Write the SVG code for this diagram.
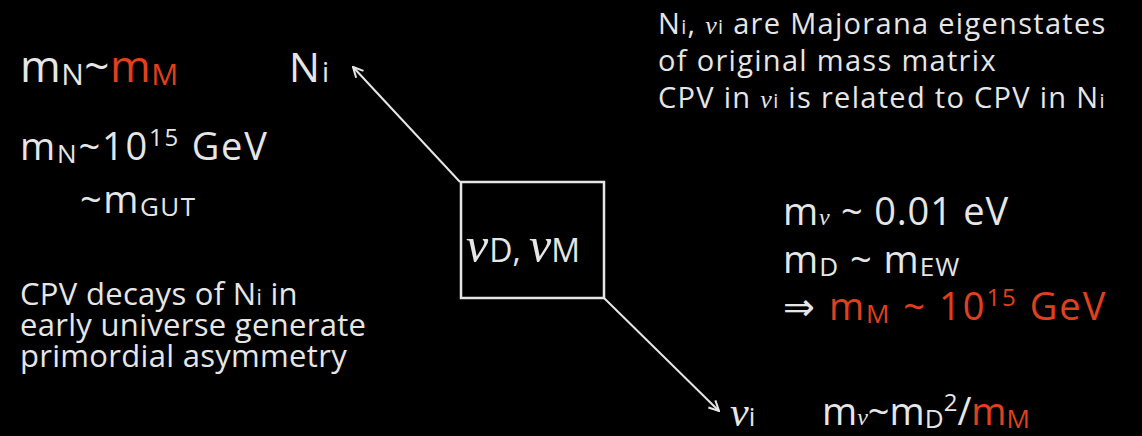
<svg xmlns="http://www.w3.org/2000/svg" width="1142" height="436" viewBox="0 0 1142 436">
<defs>
<style>
.t{font-family:"Open Sans","Lato","Liberation Sans",sans-serif;fill:#e6e6e6}
.o{fill:#e0401c}
.nu{font-family:"Liberation Serif",serif;font-style:italic}
</style>
<marker id="ah" viewBox="0 0 12 12" refX="11" refY="6" markerWidth="12" markerHeight="12" markerUnits="userSpaceOnUse" orient="auto">
<path d="M1,1 L11,6 L1,11" fill="none" stroke="#e6e6e6" stroke-width="2"/>
</marker>
</defs>
<rect width="1142" height="436" fill="#000"/>
<g id="connectors" stroke="#e6e6e6" stroke-width="2" fill="none">
<line x1="460" y1="182" x2="353" y2="67" marker-end="url(#ah)"/>
<line x1="604" y1="298" x2="719" y2="411" marker-end="url(#ah)"/>
</g>
<g id="box">
<rect x="461" y="182" width="143" height="116" fill="none" stroke="#e6e6e6" stroke-width="2.5"/>
<text class="t" x="466" y="262" font-size="50"><tspan class="nu">ν</tspan><tspan font-size="32" dx="1">D, </tspan><tspan class="nu">ν</tspan><tspan font-size="32">M</tspan></text>
</g>
<g id="Ni">
<text class="t" x="289" y="82" font-size="41">N<tspan font-size="28" dx="2">i</tspan></text>
</g>
<g id="nui">
<text class="t" x="730" y="426" font-size="42"><tspan class="nu">ν</tspan><tspan font-size="26">i</tspan></text>
</g>
<g id="left">
<text class="t" x="20" y="82" font-size="44" letter-spacing="0.5">m<tspan font-size="30" dy="3">N</tspan><tspan dy="-3">~</tspan><tspan class="o">m</tspan><tspan class="o" font-size="30" dy="3">M</tspan></text>
<text class="t" x="20" y="160" font-size="38" letter-spacing="1.8">m<tspan font-size="26" dy="3">N</tspan><tspan dy="-3">~10</tspan><tspan font-size="24" dy="-14">15</tspan><tspan dy="14"> GeV</tspan></text>
<text class="t" x="80" y="213" font-size="38" letter-spacing="1.5">~m<tspan font-size="26" dy="3">GUT</tspan></text>
<text class="t" font-size="31" letter-spacing="0.3"><tspan x="20" y="305">CPV decays of N<tspan font-size="21">i</tspan> in</tspan><tspan x="20" y="336">early universe generate</tspan><tspan x="20" y="367">primordial asymmetry</tspan></text>
</g>
<g id="right">
<text class="t" font-size="29" letter-spacing="1.3"><tspan x="658" y="34">N<tspan font-size="20">i</tspan>, <tspan class="nu" font-size="26">ν</tspan><tspan font-size="20">i</tspan> are Majorana eigenstates</tspan><tspan x="658" y="71">of original mass matrix</tspan><tspan x="658" y="108">CPV in <tspan class="nu" font-size="26">ν</tspan><tspan font-size="20">i</tspan> is related to CPV in N<tspan font-size="20">i</tspan></tspan></text>
<text class="t" x="783" y="225" font-size="38" letter-spacing="0.8">m<tspan class="nu" font-size="24">ν</tspan> ~ 0.01 eV</text>
<text class="t" x="783" y="273" font-size="38" letter-spacing="1">m<tspan font-size="26" dy="3">D</tspan><tspan dy="-3"> ~ m</tspan><tspan font-size="26" dy="3">EW</tspan></text>
<text class="t" x="783" y="320" font-size="38" letter-spacing="2">⇒ <tspan class="o">m</tspan><tspan class="o" font-size="26" dy="3">M</tspan><tspan class="o" dy="-3"> ~ 10</tspan><tspan class="o" font-size="24" dy="-14">15</tspan><tspan class="o" dy="14"> GeV</tspan></text>
<text class="t" x="822" y="425" font-size="38">m<tspan class="nu" font-size="24">ν</tspan>~m<tspan font-size="26" dy="3">D</tspan><tspan font-size="24" dy="-17">2</tspan><tspan dy="14">/</tspan><tspan class="o">m</tspan><tspan class="o" font-size="26" dy="3">M</tspan></text>
</g>
</svg>
